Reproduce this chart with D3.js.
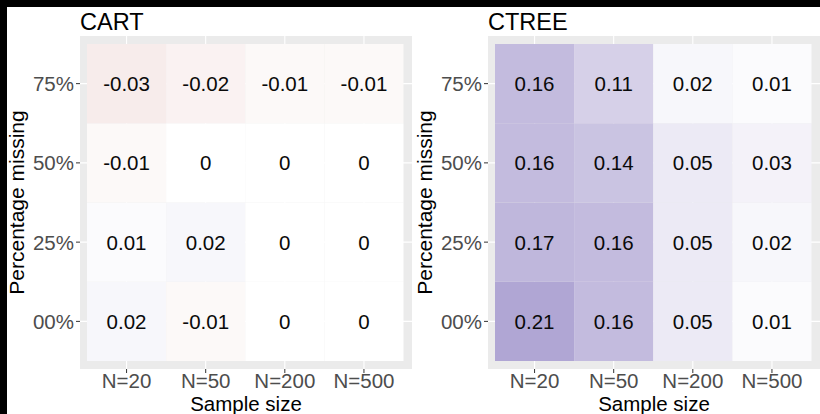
<!DOCTYPE html>
<html>
<head>
<meta charset="utf-8">
<script src="https://cdn.jsdelivr.net/npm/d3@7"></script>
<style>
  html, body { margin: 0; padding: 0; background: #ffffff; }
  svg { display: block; font-family: "Liberation Sans", Arial, Helvetica, sans-serif; }
</style>
</head>
<body>
<svg id="chart" width="820" height="414"></svg>
<script>
// ---- data ----
const sampleSizes = ["N=20", "N=50", "N=200", "N=500"];
const missingLevels = ["00%", "25%", "50%", "75%"];
const panelTitles = ["CART", "CTREE"];
// rows follow missingLevels, columns follow sampleSizes
const cartValues = [
  [0.02, -0.01, 0, 0],
  [0.01, 0.02, 0, 0],
  [-0.01, 0, 0, 0],
  [-0.03, -0.02, -0.01, -0.01]
];
const ctreeValues = [
  [0.21, 0.16, 0.05, 0.01],
  [0.17, 0.16, 0.05, 0.02],
  [0.16, 0.14, 0.05, 0.03],
  [0.16, 0.11, 0.02, 0.01]
];
const xTitle = "Sample size";
const yTitle = "Percentage missing";

// ---- drawing ----
const svg = d3.select("#chart");
const W = 820, H = 414;

const color = d3.scaleLinear()
  .domain([-0.21, 0, 0.21])
  .range(["#c77a73", "#ffffff", "#b0a6d4"])
  .interpolate(d3.interpolateRgb);

const panels = [
  { title: panelTitles[0], values: cartValues, x0: 80 },
  { title: panelTitles[1], values: ctreeValues, x0: 488 }
];
const panelY0 = 36, panelY1 = 369, panelW = 332;

panels.forEach(p => {
  const g = svg.append("g");
  const x = d3.scaleBand().domain(sampleSizes).range([p.x0 + 7, p.x0 + 323.5]).padding(0);
  const y = d3.scaleBand().domain(missingLevels).range([361, 44]).padding(0);

  // panel background
  g.append("rect").attr("x", p.x0).attr("y", panelY0)
    .attr("width", panelW).attr("height", panelY1 - panelY0).attr("fill", "#ebebeb");

  // grid lines
  g.selectAll("line.vg").data(sampleSizes).join("line")
    .attr("x1", d => x(d) + x.bandwidth() / 2).attr("x2", d => x(d) + x.bandwidth() / 2)
    .attr("y1", panelY0).attr("y2", panelY1)
    .attr("stroke", "#ffffff").attr("stroke-width", 1.1);
  g.selectAll("line.hg").data(missingLevels).join("line")
    .attr("y1", d => y(d) + y.bandwidth() / 2).attr("y2", d => y(d) + y.bandwidth() / 2)
    .attr("x1", p.x0).attr("x2", p.x0 + panelW)
    .attr("stroke", "#ffffff").attr("stroke-width", 1.1);

  // tiles
  const cells = [];
  p.values.forEach((row, i) => row.forEach((v, j) => cells.push({ r: missingLevels[i], c: sampleSizes[j], v })));
  g.selectAll("rect.tile").data(cells).join("rect")
    .attr("x", d => x(d.c)).attr("y", d => y(d.r))
    .attr("width", x.bandwidth()).attr("height", y.bandwidth())
    .attr("fill", d => color(d.v));
  g.selectAll("text.cell").data(cells).join("text")
    .attr("x", d => x(d.c) + x.bandwidth() / 2)
    .attr("y", d => y(d.r) + y.bandwidth() / 2 + 7.5)
    .attr("text-anchor", "middle")
    .attr("font-size", 20.5)
    .attr("fill", "#0a0a0a")
    .text(d => String(d.v));

  // axes
  const xAxis = d3.axisBottom(x).tickSize(4).tickPadding(3);
  const gx = g.append("g").attr("transform", `translate(0,${panelY1})`).call(xAxis);
  const yAxis = d3.axisLeft(y).tickSize(4).tickPadding(2);
  const gy = g.append("g").attr("transform", `translate(${p.x0},0)`).call(yAxis);
  [gx, gy].forEach(a => {
    a.select(".domain").remove();
    a.selectAll(".tick line").attr("stroke", "#333333").attr("stroke-width", 1);
    a.selectAll(".tick text").attr("fill", "#4d4d4d").attr("font-size", 20.5)
      .attr("font-family", "Liberation Sans, Arial, sans-serif");
  });
  gx.selectAll(".tick text").attr("dy", null).attr("y", 19);
  gy.selectAll(".tick text").attr("dy", "0.36em");

  // titles
  g.append("text").attr("x", p.x0).attr("y", 29.5)
    .attr("font-size", 23.5).attr("fill", "#000000").text(p.title);
  g.append("text").attr("x", p.x0 + panelW / 2).attr("y", 411)
    .attr("text-anchor", "middle").attr("font-size", 20.5).attr("fill", "#000000").text(xTitle);
  g.append("text")
    .attr("transform", `translate(${p.x0 - 56},${(panelY0 + panelY1) / 2}) rotate(-90)`)
    .attr("text-anchor", "middle").attr("font-size", 21).attr("fill", "#000000").text(yTitle);
});

// black frame edges (top and left) seen in the reference
svg.append("rect").attr("x", 0).attr("y", 0).attr("width", W).attr("height", 7).attr("fill", "#000");
svg.append("rect").attr("x", 0).attr("y", 0).attr("width", 7).attr("height", H).attr("fill", "#000");
</script>
</body>
</html>
